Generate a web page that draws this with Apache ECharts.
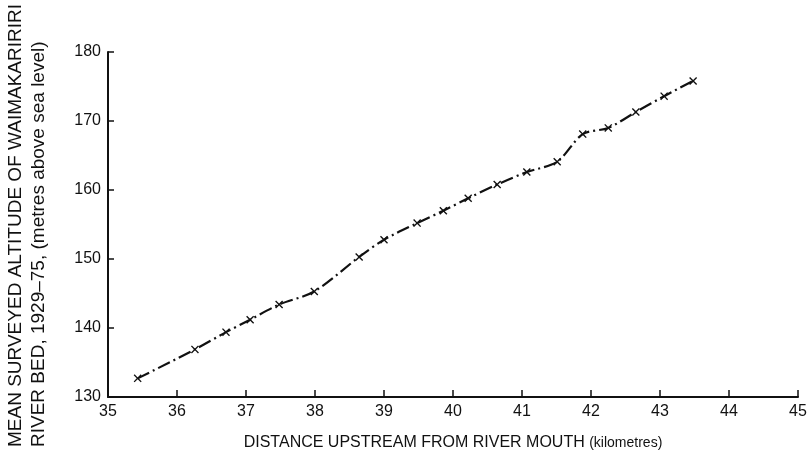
<!DOCTYPE html>
<html>
<head>
<meta charset="utf-8">
<script src="https://cdn.jsdelivr.net/npm/echarts@6/dist/echarts.min.js"></script>
<style>
	html, body { margin: 0; padding: 0; background: #fff; }
	#river_chart { width: 810px; height: 462px; }
</style>
</head>
<body>
<div id="river_chart"></div>
<script>
// distance upstream (km) and mean bed altitude (m)
var distanceKm = [35.43, 36.26, 36.71, 37.06, 37.48, 37.99, 38.64, 39.00, 39.48, 39.86,
	40.22, 40.64, 41.07, 41.51, 41.88, 42.25, 42.65, 43.06, 43.48];
var altitudeM = [132.7, 136.9, 139.4, 141.2, 143.4, 145.3, 150.3, 152.8, 155.2, 157.0,
	158.8, 160.8, 162.6, 164.1, 168.1, 169.0, 171.3, 173.6, 175.8];
var yTitleLines = ['MEAN SURVEYED ALTITUDE OF WAIMAKARIRIRI', 'RIVER BED, 1929\u201375, (metres above sea level)'];

function loadChart(){
	var chart = echarts.init(document.getElementById('river_chart'));
	var points = distanceKm.map(function(d, i){ return [d, altitudeM[i]]; });
	var font = 'Liberation Sans, Arial, sans-serif';
	var option = {
		animation: false,
		backgroundColor: '#fff',
		grid: { left: 108, right: 12, top: 52, bottom: 65 },
		xAxis: {
			type: 'value',
			min: 35, max: 45, interval: 1,
			name: 'DISTANCE UPSTREAM FROM RIVER MOUTH {s|(kilometres)}',
			nameLocation: 'middle',
			nameGap: 38,
			nameTextStyle: {
				color: '#111', fontSize: 16, fontFamily: font,
				rich: { s: { fontSize: 14, color: '#111', fontFamily: font } }
			},
			axisLine: { lineStyle: { color: '#111', width: 2 } },
			axisTick: { inside: true, length: 7, lineStyle: { color: '#111', width: 1.5 } },
			axisLabel: { color: '#111', fontSize: 16, fontFamily: font, margin: 7 },
			splitLine: { show: false }
		},
		yAxis: {
			type: 'value',
			min: 130, max: 180, interval: 10,
			axisLine: { show: true, lineStyle: { color: '#111', width: 2 } },
			axisTick: { show: true, inside: true, length: 6, lineStyle: { color: '#111', width: 1.5 } },
			axisLabel: { color: '#111', fontSize: 16, fontFamily: font, margin: 7 },
			splitLine: { show: false }
		},
		graphic: [
			{
				type: 'text', x: 16, y: 447, rotation: Math.PI / 2,
				style: { text: yTitleLines[0], fontSize: 19, fontFamily: font, fill: '#111', align: 'left', verticalAlign: 'middle' }
			},
			{
				type: 'text', x: 39, y: 447, rotation: Math.PI / 2,
				style: { text: yTitleLines[1], fontSize: 19, fontFamily: font, fill: '#111', align: 'left', verticalAlign: 'middle' }
			}
		],
		series: [
			{
				type: 'line',
				data: points,
				smooth: 0.3,
				symbol: 'path://M0,1.2L1.2,0L5,3.8L8.8,0L10,1.2L6.2,5L10,8.8L8.8,10L5,6.2L1.2,10L0,8.8L3.8,5Z',
				symbolSize: 8,
				showAllSymbol: true,
				itemStyle: { color: '#111' },
				lineStyle: { color: '#111', width: 2.2, type: [13, 4, 2, 4] }
			}
		]
	};
	chart.setOption(option);
}
loadChart();
</script>
</body>
</html>
